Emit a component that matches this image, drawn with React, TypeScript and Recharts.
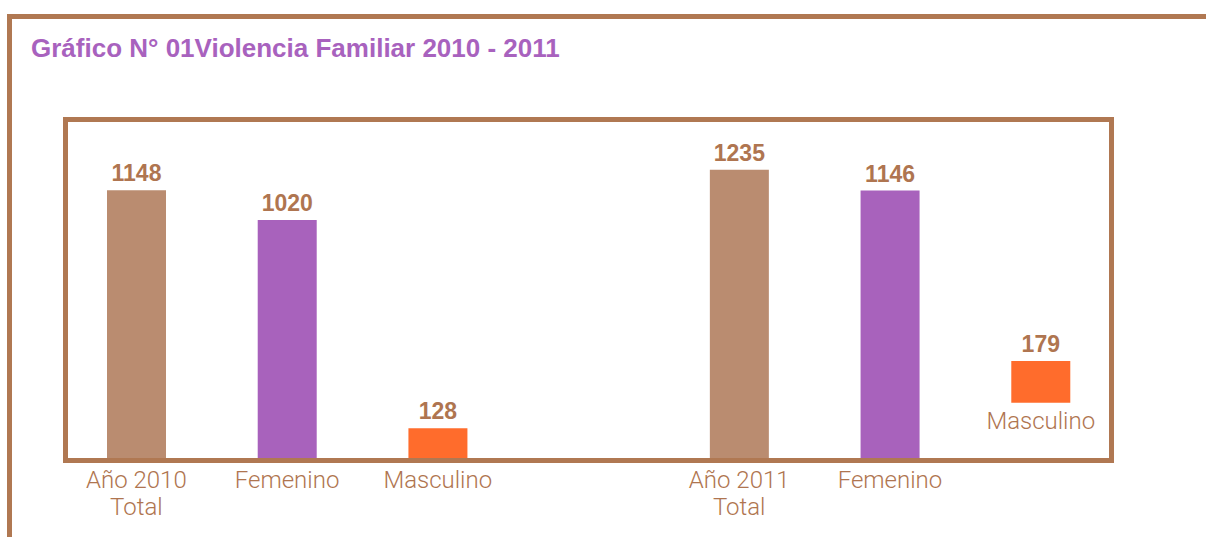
import React from 'react';
import { BarChart, Bar, XAxis, YAxis, Cell, LabelList } from 'recharts';

// ---- data ----
const titleText = 'Gráfico N° 01Violencia Familiar 2010 - 2011';
const categories = ['Año 2010\nTotal', 'Femenino', 'Masculino', '', 'Año 2011\nTotal', 'Femenino', 'Masculino'];
const axisTickLabels = ['Año 2010\nTotal', 'Femenino', 'Masculino', '', 'Año 2011\nTotal', 'Femenino', ''];
const innerLabels = ['', '', '', '', '', '', 'Masculino'];
const values: (number | null)[] = [1148, 1020, 128, null, 1235, 1146, 179];
// the original draws the 2011 "Masculino" bar floating; its base value
const barBases = [0, 0, 0, 0, 0, 0, 237];
const barColors = ['#BA8C70', '#A862BC', '#FF6C2C', '#FFFFFF', '#BA8C70', '#A862BC', '#FF6C2C'];

const BORDER = '#B07852';
const TEXT = '#AF7550';
const LIGHT_FONT = { fontFamily: 'Roboto, "Liberation Sans", sans-serif', fontWeight: 300, fontSize: 24 };

const data = categories.map((c, i) => ({
  idx: i,
  name: c,
  range: values[i] == null ? null : [barBases[i], barBases[i] + (values[i] as number)],
  valueLabel: values[i] == null ? '' : String(values[i]),
  inner: innerLabels[i],
}));

const CustomTick = (props: any) => {
  const { x, y, payload } = props;
  const label = axisTickLabels[payload.value] || '';
  const lines = label.split('\n');
  return (
    <g>
      {lines.map((ln: string, k: number) => (
        <text key={k} x={x} y={y + 22 + k * 27} textAnchor="middle" fill={TEXT} style={LIGHT_FONT}>
          {ln}
        </text>
      ))}
    </g>
  );
};

const ValueLabel = (props: any) => {
  const { x, y, width, height, value } = props;
  if (!value) return null;
  const top = Math.min(y, y + height);
  return (
    <text
      x={x + width / 2}
      y={top - 9}
      textAnchor="middle"
      fill={TEXT}
      style={{ fontFamily: '"Liberation Sans", Arial, sans-serif', fontWeight: 700, fontSize: 23 }}
    >
      {value}
    </text>
  );
};

const InnerLabel = (props: any) => {
  const { x, y, width, height, value } = props;
  if (!value) return null;
  const bottom = Math.max(y, y + height);
  return (
    <text x={x + width / 2} y={bottom + 26} textAnchor="middle" fill={TEXT} style={LIGHT_FONT}>
      {value}
    </text>
  );
};

export default function App() {
  return (
    <div style={{ position: 'absolute', left: 0, top: 0, width: 1206, height: 537, background: '#fff', overflow: 'hidden' }}>
      {/* outer frame */}
      <div
        style={{
          position: 'absolute',
          left: 7,
          top: 14,
          width: 1300,
          height: 600,
          borderTop: `5px solid ${BORDER}`,
          borderLeft: `5px solid ${BORDER}`,
        }}
      />
      {/* title */}
      <div
        style={{
          position: 'absolute',
          left: 31,
          top: 36,
          fontFamily: '"Liberation Sans", Arial, sans-serif',
          fontWeight: 700,
          fontSize: 26,
          lineHeight: '25px',
          color: '#A862BE',
          whiteSpace: 'nowrap',
        }}
      >
        {titleText}
      </div>
      {/* plot frame */}
      <div
        style={{
          position: 'absolute',
          left: 63,
          top: 117,
          width: 1051,
          height: 346,
          boxSizing: 'border-box',
          border: `5px solid ${BORDER}`,
        }}
      />
      <div style={{ position: 'absolute', left: 0, top: 0 }}>
        <BarChart
          width={1206}
          height={537}
          data={data}
          margin={{ top: 122, right: 90, bottom: 19, left: 61 }}
          barSize={59}
        >
          <XAxis
            dataKey="idx"
            axisLine={false}
            tickLine={false}
            interval={0}
            height={60}
            tick={<CustomTick />}
          />
          <YAxis hide domain={[0, 1440]} />
          <Bar dataKey="range" isAnimationActive={false}>
            {data.map((d, i) => (
              <Cell key={i} fill={barColors[i]} />
            ))}
            <LabelList dataKey="valueLabel" content={<ValueLabel />} />
            <LabelList dataKey="inner" content={<InnerLabel />} />
          </Bar>
        </BarChart>
      </div>
    </div>
  );
}
